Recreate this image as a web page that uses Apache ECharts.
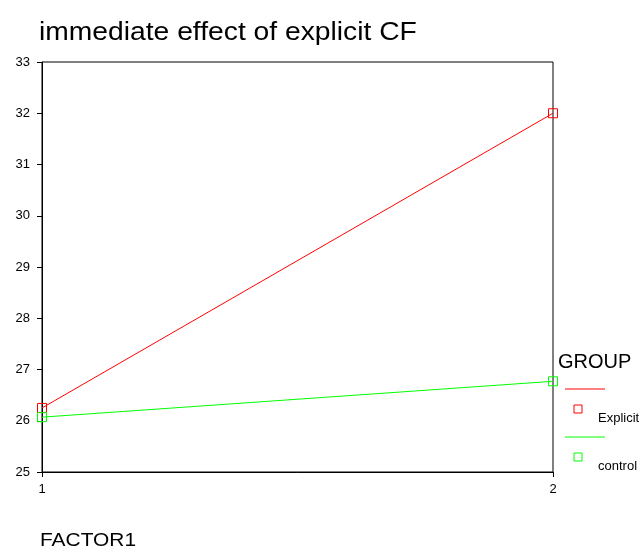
<!DOCTYPE html>
<html><head><meta charset="utf-8">
<script src="https://cdn.jsdelivr.net/npm/echarts@6/dist/echarts.min.js"></script>
<style>html,body{margin:0;padding:0;background:#fff}#c{width:644px;height:552px}</style>
</head><body><div id="c"></div>
<script>
const factorLevels = [1, 2];
const seriesNames = ['Explicit', 'control'];
const explicitValues = [26.25, 32.0];
const controlValues = [26.07, 26.77];
const yTicks = [25, 26, 27, 28, 29, 30, 31, 32, 33];
const colors = ['#ff0000', '#00ff00'];
const FONT = 'Liberation Sans, Arial, sans-serif';

const chart = echarts.init(document.getElementById('c'), null, {renderer: 'canvas'});
const mkSeries = (name, vals, col) => ({
  name, type: 'line',
  data: factorLevels.map((f, i) => [f, vals[i]]),
  lineStyle: {color: col, width: 1},
  symbol: 'rect', symbolSize: 9,
  itemStyle: {color: 'rgba(0,0,0,0)', borderColor: col, borderWidth: 1},
  emphasis: {disabled: true},
  animation: false
});
const legendX = 565, legendY0 = 389;
const legendItems = [];
seriesNames.forEach((n, i) => {
  const y = legendY0 + i * 48;
  legendItems.push({type: 'line', shape: {x1: legendX, y1: y, x2: legendX + 40, y2: y}, style: {stroke: colors[i], lineWidth: 1}});
  legendItems.push({type: 'rect', shape: {x: legendX + 9, y: y + 16, width: 8, height: 8}, style: {fill: 'none', stroke: colors[i], lineWidth: 1}});
  legendItems.push({type: 'text', x: legendX + 33, y: y + 29, style: {text: n, font: '13px ' + FONT, fill: '#000', textVerticalAlign: 'middle'}});
});
chart.setOption({
  animation: false,
  grid: {left: 42, right: 91, top: 62, bottom: 80, show: true, borderColor: '#000', borderWidth: 1, backgroundColor: 'transparent'},
  xAxis: {type: 'value', min: 1, max: 2, interval: 1,
    axisLine: {lineStyle: {color: '#000'}}, axisTick: {show: true, length: 5, lineStyle: {color: '#000'}},
    splitLine: {show: false},
    axisLabel: {color: '#000', fontSize: 13, fontFamily: FONT, margin: 11}},
  yAxis: {type: 'value', min: yTicks[0], max: yTicks[yTicks.length - 1], interval: 1,
    axisLine: {show: true, lineStyle: {color: '#000'}}, axisTick: {show: true, length: 5, lineStyle: {color: '#000'}},
    splitLine: {show: false},
    axisLabel: {color: '#000', fontSize: 13, fontFamily: FONT, margin: 12}},
  series: [mkSeries(seriesNames[0], explicitValues, colors[0]), mkSeries(seriesNames[1], controlValues, colors[1])],
  graphic: [
    {type: 'text', x: 39, y: 33, scaleX: 1.13, style: {text: 'immediate effect of explicit CF', font: '25px ' + FONT, fill: '#000', textVerticalAlign: 'middle'}},
    {type: 'text', x: 40, y: 541, scaleX: 1.1, style: {text: 'FACTOR1', font: '19px ' + FONT, fill: '#000', textVerticalAlign: 'middle'}},
    {type: 'text', x: 558, y: 362, style: {text: 'GROUP', font: '20px ' + FONT, fill: '#000', textVerticalAlign: 'middle'}},
    ...legendItems
  ]
});
</script></body></html>
